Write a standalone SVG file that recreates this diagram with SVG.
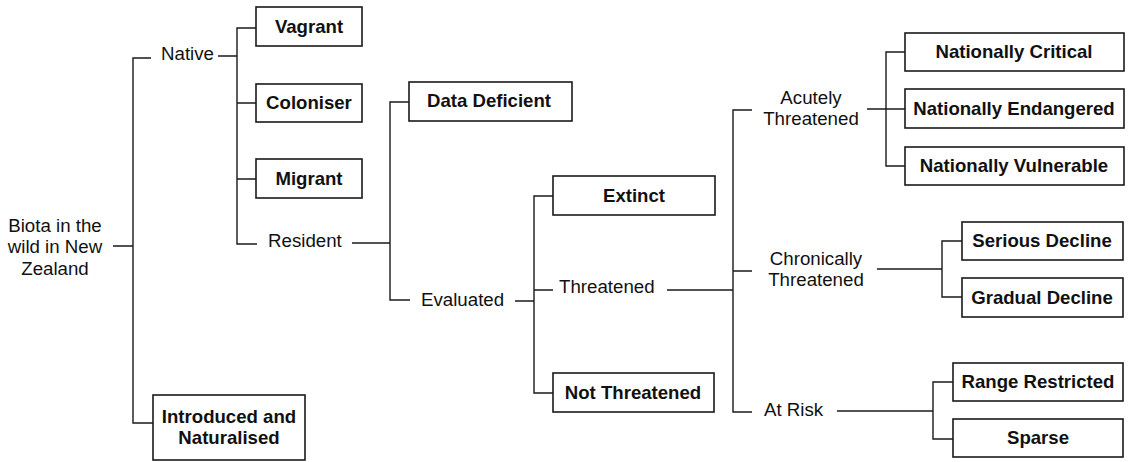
<svg xmlns="http://www.w3.org/2000/svg" width="1129" height="462" viewBox="0 0 1129 462">
<style>
.bg{fill:#ffffff}
.box{fill:#ffffff;stroke:#1a1a1a;stroke-width:1.6}
.bt{font-family:"Liberation Sans",Arial,sans-serif;font-weight:bold;font-size:18.6px;fill:#111;text-anchor:middle}
.lt{font-family:"Liberation Sans",Arial,sans-serif;font-size:18.7px;fill:#111}
.c{text-anchor:middle}
.con{fill:none;stroke:#1a1a1a;stroke-width:1.4}
</style>
<rect class="bg" x="0" y="0" width="1129" height="462"/>
<g id="connectors">
<path class="con" d="M113,246H133M151,58H133V423H153"/>
<path class="con" d="M218,56H237M256,28H237V244H257M237,103H256M237,179H256"/>
<path class="con" d="M352,243H390M409,102H390V300H410"/>
<path class="con" d="M515,301H534M553,196H534V393H553M534,290H553"/>
<path class="con" d="M667,290H733M752,110H733V412H752M733,271H752"/>
<path class="con" d="M867,109H905M905,52H886V166H905"/>
<path class="con" d="M877,269H942M962,241H942V297H962"/>
<path class="con" d="M837,411H933M953,382H933V439H953"/>
</g>
<g id="biota"><text class="lt c" x="55" y="232">Biota in the</text><text class="lt c" x="55" y="253">wild in New</text><text class="lt c" x="55" y="275">Zealand</text></g>
<g id="native"><text class="lt" x="161" y="60">Native</text></g>
<g id="vagrant"><rect class="box" x="256" y="7" width="106" height="39"/><text class="bt" x="309" y="33">Vagrant</text></g>
<g id="coloniser"><rect class="box" x="256" y="84" width="106" height="38"/><text class="bt" x="309" y="109">Coloniser</text></g>
<g id="migrant"><rect class="box" x="256" y="159" width="106" height="39"/><text class="bt" x="309" y="185">Migrant</text></g>
<g id="resident"><text class="lt" x="268" y="247">Resident</text></g>
<g id="introduced"><rect class="box" x="153" y="395" width="152" height="65"/><text class="bt" x="229" y="423">Introduced and</text><text class="bt" x="229" y="444">Naturalised</text></g>
<g id="data-deficient"><rect class="box" x="409" y="82" width="163" height="39"/><text class="bt" x="489" y="107">Data Deficient</text></g>
<g id="evaluated"><text class="lt" x="421" y="306">Evaluated</text></g>
<g id="extinct"><rect class="box" x="553" y="176" width="162" height="39"/><text class="bt" x="634" y="202">Extinct</text></g>
<g id="threatened"><text class="lt" x="559" y="293">Threatened</text></g>
<g id="not-threatened"><rect class="box" x="553" y="373" width="161" height="39"/><text class="bt" x="633" y="399">Not Threatened</text></g>
<g id="acutely"><text class="lt c" x="811" y="104">Acutely</text><text class="lt c" x="811" y="125">Threatened</text></g>
<g id="chronically"><text class="lt c" x="816" y="265">Chronically</text><text class="lt c" x="816" y="286">Threatened</text></g>
<g id="at-risk"><text class="lt" x="764" y="416">At Risk</text></g>
<g id="nationally-critical"><rect class="box" x="905" y="33" width="219" height="38"/><text class="bt" x="1014" y="58">Nationally Critical</text></g>
<g id="nationally-endangered"><rect class="box" x="905" y="89" width="219" height="39"/><text class="bt" x="1014" y="115">Nationally Endangered</text></g>
<g id="nationally-vulnerable"><rect class="box" x="905" y="147" width="219" height="38"/><text class="bt" x="1014" y="172">Nationally Vulnerable</text></g>
<g id="serious-decline"><rect class="box" x="962" y="222" width="161" height="38"/><text class="bt" x="1042" y="247">Serious Decline</text></g>
<g id="gradual-decline"><rect class="box" x="962" y="278" width="161" height="39"/><text class="bt" x="1042" y="304">Gradual Decline</text></g>
<g id="range-restricted"><rect class="box" x="953" y="363" width="170" height="38"/><text class="bt" x="1038" y="388">Range Restricted</text></g>
<g id="sparse"><rect class="box" x="953" y="419" width="170" height="38"/><text class="bt" x="1038" y="444">Sparse</text></g>
</svg>
